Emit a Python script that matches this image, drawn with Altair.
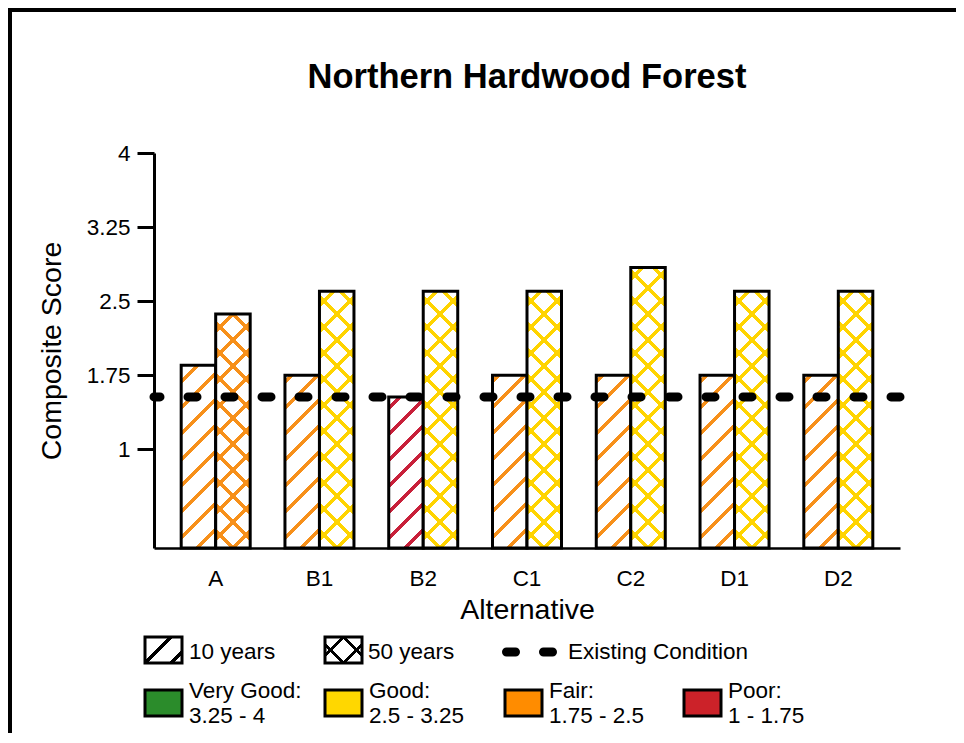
import altair as alt
import pandas as pd

# ---------------- data ----------------
alternatives = ["A", "B1", "B2", "C1", "C2", "D1", "D2"]
periods = ["10 years", "50 years"]
score_10yr = [1.85, 1.75, 1.53, 1.75, 1.75, 1.75, 1.75]
score_50yr = [2.37, 2.60, 2.60, 2.60, 2.84, 2.60, 2.60]
existing_condition = [1.53]
y_ticks = [1, 1.75, 2.5, 3.25, 4]
rating_labels = ["Very Good:\n3.25 - 4", "Good:\n2.5 - 3.25", "Fair:\n1.75 - 2.5", "Poor:\n1 - 1.75"]
rating_lower = [3.25, 2.5, 1.75, 1.0]
rating_fill = ["#2B8C2B", "#FFD700", "#FF8C00", "#CC2229"]
rating_line = ["#2B8C2B", "#FFD400", "#F7901A", "#C8203A"]
title_text = "Northern Hardwood Forest"
legend_period_labels = ["10 years", "50 years"]
legend_existing_label = "Existing Condition"

# ---------------- layout / style ----------------
FONT = "Liberation Sans"
W, H = 746, 395
Y_MAX = 4.0
PAD_IN, PAD_OUT = 0.335, 0.262
step = W / (len(alternatives) - PAD_IN + 2 * PAD_OUT)
bar_w = step * (1 - PAD_IN) / 2
px_per_unit = H / Y_MAX
HATCH_P = 26.0
HATCH_LW = 5.0
CLEAR = "rgba(255,255,255,0)"
LEG_FS = 22.5


def rating_index(v):
    for i, lo in enumerate(rating_lower):
        if v >= lo - 1e-9:
            return i
    return len(rating_lower) - 1


def hatch(w, h, color, direction, phase, bg="#ffffff"):
    total = w + h
    s = total / (w * w + h * h)
    a, b = s * w, s * h
    if direction == "/":
        coords = dict(x1=0, y1=0, x2=a, y2=b)
    else:
        coords = dict(x1=0, y1=1, x2=a, y2=1 - b)
    stops = [(0.0, bg)]
    c = phase % HATCH_P - HATCH_P
    while c - HATCH_LW / 2 < total:
        lo = (c - HATCH_LW / 2) / total
        hi = (c + HATCH_LW / 2) / total
        if hi > 0 and lo < 1:
            lo, hi = max(lo, 0.0), min(hi, 1.0)
            stops += [(lo, bg), (lo, color), (hi, color), (hi, bg)]
        c += HATCH_P
    stops.append((1.0, bg))
    return {"gradient": "linear", **coords,
            "stops": [{"offset": round(o, 5), "color": col} for o, col in stops]}


df = pd.DataFrame({
    "Alternative": alternatives * 2,
    "Period": [periods[0]] * len(alternatives) + [periods[1]] * len(alternatives),
    "Score": score_10yr + score_50yr,
})
df["key"] = df["Alternative"] + " " + df["Period"]

x_enc = alt.X("Alternative:N",
              scale=alt.Scale(domain=alternatives, paddingInner=PAD_IN, paddingOuter=PAD_OUT),
              axis=alt.Axis(title="Alternative", labelAngle=0, ticks=False, labelPadding=19,
                            titlePadding=6, domainWidth=2.5))
xoff_enc = alt.XOffset("Period:N", scale=alt.Scale(domain=periods, paddingInner=0, paddingOuter=0))
y_scale = alt.Scale(domain=[0, Y_MAX], nice=False, zero=True)
y_axis = alt.Axis(title="Composite Score", values=y_ticks, format=".3~g", grid=False,
                  tickSize=17, tickWidth=3, labelPadding=7, titlePadding=20, domainWidth=3)

base = alt.Chart(df).encode(
    x=x_enc, xOffset=xoff_enc,
    y=alt.Y("Score:Q", scale=y_scale, axis=y_axis),
)

layers = []
for _, row in df.iterrows():
    h = row["Score"] * px_per_unit
    col = rating_line[rating_index(row["Score"])]
    sel = base.transform_filter(alt.datum.key == row["key"])
    if row["Period"] == periods[0]:
        layers.append(sel.mark_bar(fill=hatch(bar_w, h, col, "/", h - 10),
                                   stroke="black", strokeWidth=3))
    else:
        layers.append(sel.mark_bar(fill=hatch(bar_w, h, col, "/", h + bar_w / 2),
                                   strokeWidth=0))
        layers.append(sel.mark_bar(fill=hatch(bar_w, h, col, "\\", bar_w / 2, bg=CLEAR),
                                   stroke="black", strokeWidth=3))

# existing condition dashed line
rule = alt.Chart(pd.DataFrame({"Existing": existing_condition})).mark_rule(
    color="black", strokeWidth=9, strokeDash=[9, 28], strokeCap="round"
).encode(y=alt.Y("Existing:Q", scale=y_scale, axis=y_axis))
layers.append(rule)

one = pd.DataFrame({"k": [0]})


def txt(text, x, y, size=LEG_FS, align="left", **kw):
    return alt.Chart(one).mark_text(text=text, font=FONT, fontSize=size, align=align,
                                    baseline="alphabetic", color="black", **kw).encode(
        x=alt.value(x), y=alt.value(y))


def box(x, y, w, h, fill, sw=3):
    return alt.Chart(one).mark_rect(fill=fill, stroke="black", strokeWidth=sw).encode(
        x=alt.value(x), x2=alt.value(x + w), y=alt.value(y), y2=alt.value(y + h))


# title
layers.append(txt(title_text, W / 2, -65, size=34.5, align="center", fontWeight="bold"))

# legend row 1
BW, BH = 37, 26
layers.append(box(-9, 484, BW, BH, hatch(BW, BH, "black", "/", BH)))
layers.append(txt(legend_period_labels[0], 35, 506))
layers.append(box(171, 484, BW, BH, hatch(BW, BH, "black", "/", BH + BW / 2), sw=0))
layers.append(box(171, 484, BW, BH, hatch(BW, BH, "black", "\\", BW / 2, bg=CLEAR)))
layers.append(txt(legend_period_labels[1], 214, 506))
layers.append(alt.Chart(one).mark_rule(color="black", strokeWidth=9, strokeDash=[9, 28],
                                       strokeCap="round").encode(
    x=alt.value(352.5), x2=alt.value(399), y=alt.value(499)))
layers.append(txt(legend_existing_label, 414, 506))

# legend row 2
col_x = [-9, 171, 351, 530]
for i, lab in enumerate(rating_labels):
    layers.append(box(col_x[i], 537, BW, BH, rating_fill[i]))
    layers.append(txt(lab, col_x[i] + 44, 545, lineBreak="\n", lineHeight=25))

# frame around figure
layers.append(alt.Chart(one).mark_rect(fillOpacity=0, stroke="black", strokeWidth=4).encode(
    x=alt.value(-144), x2=alt.value(W + 200), y=alt.value(-143), y2=alt.value(H + 300)))

chart = alt.layer(*layers).properties(
    width=W, height=H,
    padding={"left": 146, "top": 145, "right": 56, "bottom": 185},
    autosize=alt.AutoSizeParams(type="none"),
).configure_view(stroke=None).configure_axis(
    labelFont=FONT, titleFont=FONT, labelFontSize=22.5, titleFontSize=28.5,
    titleFontWeight="normal", labelColor="black", titleColor="black",
    domainColor="black", tickColor="black",
)

chart.save("out.html", embed_options={"renderer": "svg", "actions": False})
